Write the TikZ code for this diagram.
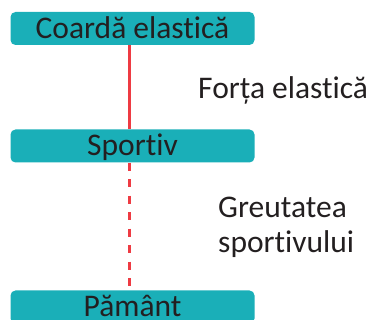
\documentclass[tikz,border=0pt]{standalone}
\usepackage{fontspec}
\setmainfont[Ligatures={NoCommon,NoContextual}]{Carlito}
\definecolor{tealbox}{HTML}{1AAFB8}
\definecolor{ropered}{HTML}{EE3B43}
\definecolor{ink}{HTML}{231F20}
\begin{document}
\begin{tikzpicture}[x=1pt,y=-1pt,
   box/.style={fill=tealbox,rounded corners=5pt,minimum width=244pt,
     minimum height=33pt,inner sep=0pt,text height=20pt,text depth=0pt,
     text=ink,font=\fontsize{31.5}{35}\selectfont},
   forcetext/.style={anchor=base west,inner sep=0pt,text=ink,
     font=\fontsize{31.5}{35}\selectfont},
   rope/.style={draw=ropered,line width=2.3pt}]
   \useasboundingbox (0,0) rectangle (370,320);
   \foreach \n/\y/\t in
     {coarda/28.5/{Coardă elastică},
      sportiv/146/{Sportiv},
      pamant/307/{Pământ}
     }
     \node[box] (\n) at (132.5,\y) {\t};
   \draw[rope] ([xshift=-3pt]coarda.south) -- ([xshift=-3pt]sportiv.north);
   \draw[rope,dash pattern=on 8pt off 8.5pt]
     ([xshift=-3pt]sportiv.south) -- ([xshift=-3pt]pamant.north);
   \node[forcetext] (elastica) at (198,99) {Forța elastică};
   \node[forcetext,align=left] (greutate) at (218,253) {Greutatea\\sportivului};
\end{tikzpicture}
\end{document}
